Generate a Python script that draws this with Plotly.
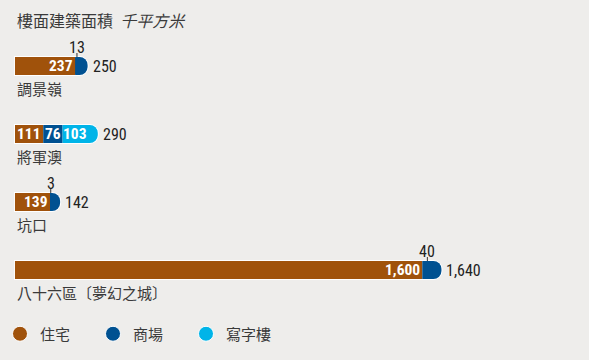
import numpy as np
import plotly.graph_objects as go

# ---- data ----
locations = ["調景嶺", "將軍澳", "坑口", "八十六區〔夢幻之城〕"]
categories = ["住宅", "商場", "寫字樓"]
residential = [237, 111, 139, 1600]
commercial = [13, 76, 3, 40]
office = [0, 103, 0, 0]
totals = [250, 290, 142, 1640]
title_main = "樓面建築面積"
title_unit = "千平方米"

colors = ["#a0520b", "#005191", "#00b4e8"]
bg = "#eeedeb"
num_font = "Roboto Condensed, Open Sans Condensed, Liberation Sans Narrow, Roboto, sans-serif"
cjk_font = "Noto Sans CJK TC, Noto Sans CJK SC, sans-serif"

W, H = 589, 360
x0_px = 14          # left edge of bars
px_per_unit = 0.255
y0_px, row_px = 66, 68
bar_px = 18
cap_px = 9

xr = [-x0_px / px_per_unit, (W - x0_px) / px_per_unit]
yr = [(H - y0_px) / row_px, -y0_px / row_px]
bar_w = bar_px / row_px
cap_units = cap_px / px_per_unit
one_px = 1 / px_per_unit

series = [residential, commercial, office]
vals = np.array(series, dtype=float)  # shape (3, n)
n = len(locations)
ypos = np.arange(n)
starts = np.vstack([np.zeros(n), np.cumsum(vals, axis=0)[:-1]])
ends = starts + vals
tot = np.array(totals, dtype=float)

# colour of the last non-zero segment of each bar (for the rounded cap)
last_idx = [max(i for i in range(3) if vals[i, j] > 0) for j in range(n)]
cap_colors = [colors[k] for k in last_idx]

fig = go.Figure()

# white outline: body + rounded end
fig.add_trace(go.Bar(
    orientation="h", y=ypos, base=[-one_px] * n, x=tot + one_px,
    width=(bar_px + 2) / row_px,
    marker=dict(color="white", line=dict(width=0)),
    showlegend=False, hoverinfo="skip"))
fig.add_trace(go.Bar(
    orientation="h", y=ypos, base=tot - (cap_px + 1) * one_px,
    x=[2 * (cap_px + 1) * one_px] * n, width=(bar_px + 2) / row_px,
    marker=dict(color="white", line=dict(width=0), cornerradius=cap_px + 1),
    showlegend=False, hoverinfo="skip"))
# rounded coloured end cap (left half hidden under the segments)
fig.add_trace(go.Bar(
    orientation="h", y=ypos, base=tot - cap_units, x=[2 * cap_units] * n, width=bar_w,
    marker=dict(color=cap_colors, line=dict(width=0), cornerradius=cap_px),
    showlegend=False, hoverinfo="skip"))

for i, cat in enumerate(categories):
    fig.add_trace(go.Bar(
        orientation="h", y=ypos, base=starts[i], x=vals[i], width=bar_w,
        marker=dict(color=colors[i], line=dict(width=0)),
        showlegend=False, name=cat))

# legend entries, one legend each so they can be placed freely
legend_x_px = [-1, 93, 186]
legend_names = ["legend", "legend2", "legend3"]
for i, cat in enumerate(categories):
    fig.add_trace(go.Scatter(
        x=[None], y=[None], mode="markers", name=cat, legend=legend_names[i],
        marker=dict(color=colors[i], size=15, line=dict(color="white", width=1))))

ann = []
shapes = []
for j in range(n):
    ann.append(dict(x=0, y=ypos[j], xref="x", yref="y", text=locations[j],
                    xanchor="left", yanchor="middle", yshift=-22, showarrow=False,
                    font=dict(family=cjk_font, size=15, color="#3a3a3a")))
    ann.append(dict(x=tot[j], y=ypos[j], xref="x", yref="y", text=f"{totals[j]:,}",
                    xanchor="left", yanchor="middle", xshift=cap_px + 3, showarrow=False,
                    font=dict(family=num_font, size=16, color="#222")))
    for i in range(3):
        v = vals[i, j]
        if v <= 0:
            continue
        if v >= 50:
            ann.append(dict(x=ends[i, j], y=ypos[j], xref="x", yref="y",
                            text=f"<b>{int(v):,}</b>", xanchor="right", yanchor="middle",
                            xshift=-1, borderpad=0, showarrow=False,
                            font=dict(family=num_font, size=15.5, color="white")))
        else:
            mid = starts[i, j] + v / 2
            ann.append(dict(x=mid, y=ypos[j], xref="x", yref="y",
                            text=f"{int(v):,}", xanchor="center", yanchor="middle",
                            yshift=18.5, showarrow=False,
                            font=dict(family=num_font, size=16, color="#222")))
            shapes.append(dict(type="line", xref="x", yref="y", x0=mid, x1=mid,
                               y0=ypos[j] - bar_w / 2, y1=ypos[j] - bar_w / 2 - 4 / row_px,
                               line=dict(color="#333", width=1)))

ann.append(dict(x=x0_px / W, y=1 - 20 / H, xref="paper", yref="paper",
                text=f"{title_main}  <i>{title_unit}</i>", xanchor="left", yanchor="middle",
                showarrow=False, font=dict(family=cjk_font, size=16, color="#3a3a3a")))

leg_common = dict(orientation="h", xanchor="left", y=1 - 334 / H, yanchor="middle",
                  bgcolor="rgba(0,0,0,0)", itemsizing="trace",
                  font=dict(family=cjk_font, size=15, color="#3a3a3a"))

fig.update_layout(
    width=W, height=H, margin=dict(l=0, r=0, t=0, b=0),
    paper_bgcolor=bg, plot_bgcolor=bg, barmode="overlay",
    xaxis=dict(range=xr, visible=False, fixedrange=True),
    yaxis=dict(range=yr, visible=False, fixedrange=True),
    annotations=ann, shapes=shapes,
    showlegend=True,
    legend=dict(x=legend_x_px[0] / W, **leg_common),
    legend2=dict(x=legend_x_px[1] / W, **leg_common),
    legend3=dict(x=legend_x_px[2] / W, **leg_common),
)

fig.write_html("out.html")
